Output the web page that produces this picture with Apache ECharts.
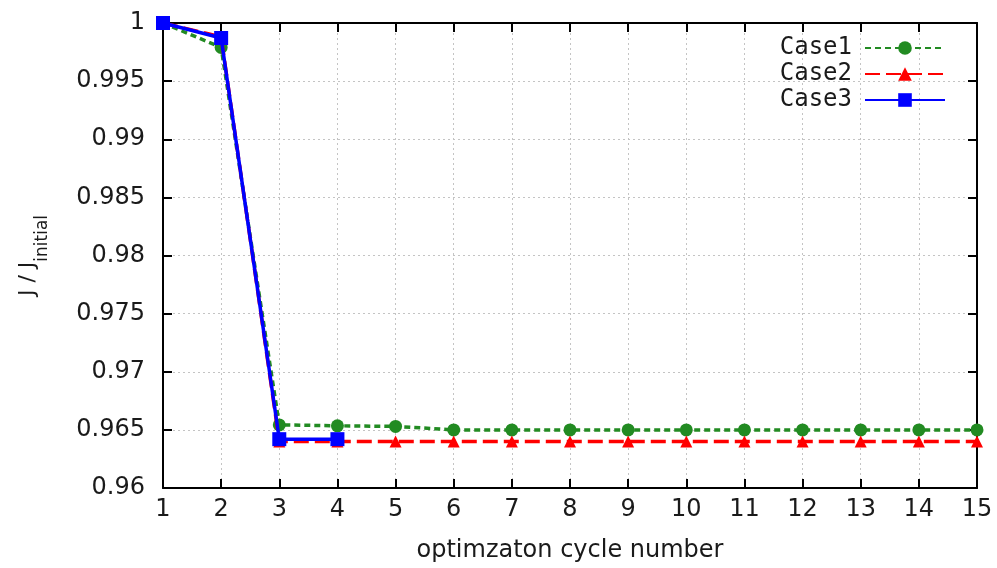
<!DOCTYPE html>
<html>
<head>
<meta charset="utf-8">
<script src="https://cdn.jsdelivr.net/npm/echarts@6/dist/echarts.min.js"></script>
<style>
  html, body { margin: 0; padding: 0; background: #fff; }
  #chart { width: 997px; height: 568px; }
</style>
</head>
<body>
<div id="chart"></div>
<script>
// Optimization cycle numbers and normalized objective values per case
const cycles = [1, 2, 3, 4, 5, 6, 7, 8, 9, 10, 11, 12, 13, 14, 15];
const case1 = [1, 0.9979, 0.96543, 0.96535, 0.9653, 0.965, 0.965, 0.965, 0.965, 0.965, 0.965, 0.965, 0.965, 0.965, 0.965];
const case2 = [1, 0.9988, 0.964, 0.964, 0.964, 0.964, 0.964, 0.964, 0.964, 0.964, 0.964, 0.964, 0.964, 0.964, 0.964];
const case3 = [1, 0.99871, 0.9642, 0.9642];
const seriesNames = ['Case1', 'Case2', 'Case3'];

const pairs = (vals) => vals.map((v, i) => [cycles[i], v]);

const font = 'DejaVu Sans';
const ink = '#1a1a1a';
const chart = echarts.init(document.getElementById('chart'));

const gridLine = { show: true, lineStyle: { color: '#c4c4c4', type: [2, 3], width: 1 } };
const frame = { show: true, onZero: false, lineStyle: { color: '#000', width: 2 } };
const ticks = { show: true, inside: true, length: 9, lineStyle: { color: '#000', width: 2 } };

chart.setOption({
  animation: false,
  backgroundColor: '#fff',
  grid: { left: 163, right: 20, top: 23, bottom: 78, containLabel: false },
  legend: {
    right: 46,
    top: 31,
    orient: 'vertical',
    align: 'right',
    itemWidth: 80,
    itemHeight: 17,
    itemGap: 2,
    textStyle: { fontFamily: 'DejaVu Sans Mono', fontSize: 24, lineHeight: 24, color: ink, padding: [0, 8, 0, 0] },
    data: seriesNames
  },
  xAxis: [{
    type: 'value', min: 1, max: 15, interval: 1,
    name: 'optimzaton cycle number', nameLocation: 'middle', nameGap: 51,
    nameTextStyle: { fontFamily: font, fontSize: 24, color: ink },
    axisLine: frame,
    axisTick: ticks,
    axisLabel: { fontFamily: font, fontSize: 24, color: ink, margin: 10 },
    splitLine: gridLine
  }, {
    type: 'value', min: 1, max: 15, interval: 1, position: 'top',
    axisLine: frame,
    axisTick: ticks,
    axisLabel: { show: false },
    splitLine: { show: false }
  }],
  yAxis: [{
    type: 'value', min: 0.96, max: 1, interval: 0.005,
    name: '{m|J / J}{s|initial}', nameLocation: 'middle', nameGap: 124, nameRotate: 90,
    nameTextStyle: {
      rich: {
        m: { fontFamily: font, fontSize: 22, color: ink },
        s: { fontFamily: font, fontSize: 17, color: ink, verticalAlign: 'bottom', padding: [0, 0, -12, 0] }
      }
    },
    axisLine: frame,
    axisTick: ticks,
    axisLabel: {
      fontFamily: font, fontSize: 24, color: ink, margin: 18,
      formatter: (v) => String(parseFloat(v.toFixed(3)))
    },
    splitLine: gridLine
  }, {
    type: 'value', min: 0.96, max: 1, interval: 0.005, position: 'right',
    axisLine: frame,
    axisTick: ticks,
    axisLabel: { show: false },
    splitLine: { show: false }
  }],
  series: [{
    name: 'Case1', type: 'line', data: pairs(case1),
    symbol: 'circle', symbolSize: 13,
    itemStyle: { color: '#228b22' },
    lineStyle: { color: '#228b22', width: 3.5, type: [6, 4] },
    z: 3
  }, {
    name: 'Case2', type: 'line', data: pairs(case2),
    symbol: 'triangle', symbolSize: 12,
    itemStyle: { color: '#ff0000' },
    lineStyle: { color: '#ff0000', width: 3.5, type: [15, 6] },
    z: 4
  }, {
    name: 'Case3', type: 'line', data: pairs(case3),
    symbol: 'rect', symbolSize: 14,
    itemStyle: { color: '#0000ff' },
    lineStyle: { color: '#0000ff', width: 3.5 },
    z: 5
  }]
});
</script>
</body>
</html>
